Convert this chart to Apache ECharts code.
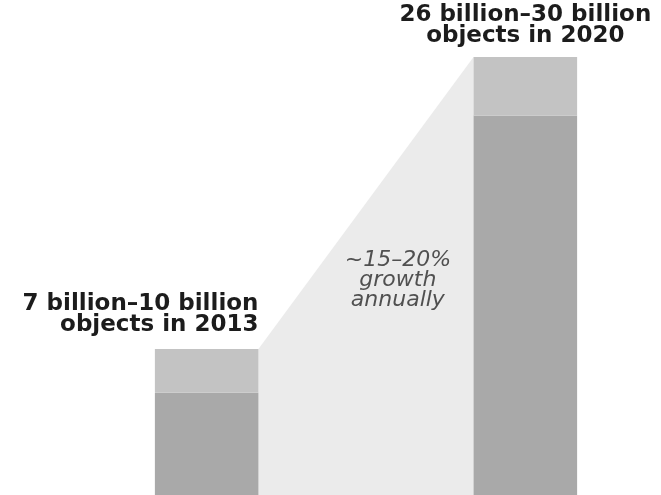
<!DOCTYPE html>
<html>
<head>
<meta charset="utf-8">
<script src="https://cdn.jsdelivr.net/npm/echarts@6/dist/echarts.min.js"></script>
<style>
  html, body { margin: 0; padding: 0; background: #fff; }
  #chart { width: 661px; height: 495px; }
</style>
</head>
<body>
<div id="chart"></div>
<script>
// categories: the middle slot holds the growth wedge
const categories = ['2013', 'growth', '2020'];
// billions of objects
const lowEnd = [7, '-', 26];
const highEnd = [10, '-', 30];
const barLabels = ['7 billion\u201310 billion\nobjects in 2013', '', '26 billion\u201330 billion\nobjects in 2020'];
const growthText = '~15\u201320%\ngrowth\nannually';

const barFrac = 0.65;

const chart = echarts.init(document.getElementById('chart'));

var topPart = highEnd.map(function (v, i) {
    if (v === '-') return '-';
    var item = { value: v - lowEnd[i] };
    if (i === 0) {
        item.label = {
            show: true, formatter: barLabels[i],
            position: ['100%', -13], align: 'right', verticalAlign: 'bottom'
        };
    } else {
        item.label = {
            show: true, formatter: barLabels[i],
            position: 'top', distance: 10, align: 'center'
        };
    }
    return item;
});

chart.setOption({
    backgroundColor: '#ffffff',
    animation: false,
    grid: { left: 127, right: 56, top: 57, bottom: 0 },
    xAxis: {
        type: 'category', data: categories, show: false
    },
    yAxis: {
        type: 'value', min: 0, max: 30, show: false
    },
    series: [
        {
            type: 'custom',
            z: 1,
            data: [[1, 0]],
            renderItem: function (params, api) {
                var band = api.size([1, 0])[0];
                var half = band * barFrac / 2;
                var x0 = api.coord([0, 0])[0] + half;
                var x1 = api.coord([2, 0])[0] - half;
                var yBase = api.coord([0, 0])[1];
                var yLeft = api.coord([0, highEnd[0]])[1];
                var yRight = api.coord([2, highEnd[2]])[1];
                var mid = api.coord([1, 14.7]);
                return {
                    type: 'group',
                    children: [
                        {
                            type: 'polygon',
                            shape: { points: [[x0, yLeft], [x1, yRight], [x1, yBase], [x0, yBase]] },
                            style: { fill: '#ebebeb' }
                        },
                        {
                            type: 'text',
                            x: mid[0] + band * 0.2,
                            y: mid[1],
                            style: {
                                text: growthText,
                                fill: '#505050',
                                font: 'italic 22px "DejaVu Sans"',
                                lineHeight: 20,
                                align: 'center',
                                verticalAlign: 'middle'
                            }
                        }
                    ]
                };
            }
        },
        {
            name: 'low',
            type: 'bar',
            stack: 'total',
            z: 2,
            barWidth: (barFrac * 100) + '%',
            data: lowEnd,
            itemStyle: { color: '#a9a9a9' }
        },
        {
            name: 'high',
            type: 'bar',
            stack: 'total',
            z: 2,
            barWidth: (barFrac * 100) + '%',
            data: topPart,
            itemStyle: { color: '#c3c3c3' },
            label: {
                color: '#1c1c1c',
                fontFamily: 'DejaVu Sans',
                fontWeight: 'bold',
                fontSize: 23,
                lineHeight: 21
            }
        }
    ]
});
</script>
</body>
</html>
